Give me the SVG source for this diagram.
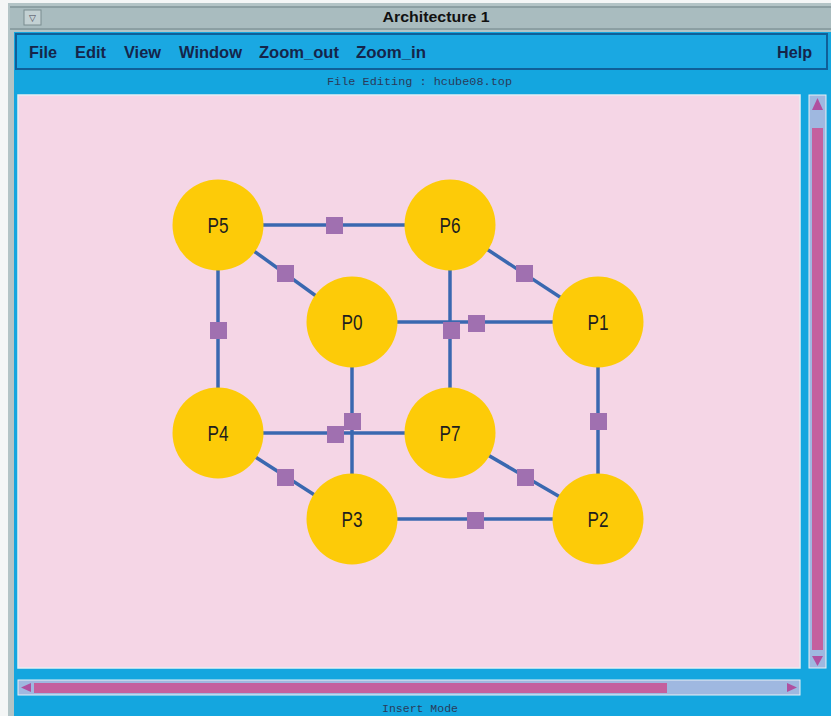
<svg xmlns="http://www.w3.org/2000/svg" width="831" height="716" viewBox="0 0 831 716">
<style>
.edge{stroke:#3a68b0;stroke-width:3.5;fill:none}
.sq{fill:#a070b0}
.node{fill:#fdcb08}
.lbl{font-family:"Liberation Sans",Arial,sans-serif;font-size:22px;fill:#1e1e1e;text-anchor:middle;dominant-baseline:central}
.menu{font-family:"Liberation Sans",Arial,sans-serif;font-size:17px;font-weight:bold;fill:#15254a}
.mono{font-family:"Liberation Mono","DejaVu Sans Mono",monospace;font-size:11.5px;fill:#2a3a5a}
</style>
<rect width="831" height="716" fill="#f4f6f6"/>
<!-- window frame -->
<rect x="8" y="3" width="823" height="713" fill="#b3c4c6"/>
<rect x="10" y="6" width="821" height="24" fill="#a9bcbf"/>
<line x1="10" y1="7" x2="831" y2="7" stroke="#6f8286" stroke-width="1"/>
<line x1="10" y1="29" x2="831" y2="29" stroke="#6f8286" stroke-width="1"/>
<rect x="24" y="10" width="17" height="15" fill="#c3d1d3" stroke="#7a8c90"/>
<text x="32.5" y="21" font-family="DejaVu Sans,sans-serif" font-size="9" fill="#445" text-anchor="middle">▽</text>
<text x="436" y="22" font-family="Liberation Sans,Arial,sans-serif" font-size="15" font-weight="bold" fill="#111" text-anchor="middle" textLength="107" lengthAdjust="spacingAndGlyphs">Architecture 1</text>
<!-- blue body -->
<rect x="14" y="32" width="817" height="684" fill="#14a6df"/>
<rect x="16" y="34" width="811" height="35" fill="#1aa8e2" stroke="#0f5f98" stroke-width="2"/>
<g class="menu">
<text x="29" y="58" textLength="28" lengthAdjust="spacingAndGlyphs">File</text>
<text x="75" y="58" textLength="31" lengthAdjust="spacingAndGlyphs">Edit</text>
<text x="124" y="58" textLength="37" lengthAdjust="spacingAndGlyphs">View</text>
<text x="179" y="58" textLength="63" lengthAdjust="spacingAndGlyphs">Window</text>
<text x="259" y="58" textLength="80" lengthAdjust="spacingAndGlyphs">Zoom_out</text>
<text x="356" y="58" textLength="70" lengthAdjust="spacingAndGlyphs">Zoom_in</text>
<text x="777" y="58" textLength="35" lengthAdjust="spacingAndGlyphs">Help</text>
</g>
<text class="mono" x="327" y="85" textLength="185" lengthAdjust="spacingAndGlyphs">File Editing :  hcube08.top</text>
<!-- canvas -->
<rect x="18" y="95" width="782" height="573" fill="#f5d6e6" stroke="#e8eef2" stroke-width="1.5"/>
<!-- vertical scrollbar -->
<rect x="809" y="95" width="17" height="573" fill="#9fb8e0" stroke="#e8f0f6"/>
<rect x="812" y="128" width="11" height="522" fill="#c4609e"/>
<polygon points="817.5,98 812,110 823,110" fill="#b050a0"/>
<polygon points="812,656 823,656 817.5,666" fill="#b050a0"/>
<!-- horizontal scrollbar -->
<rect x="18" y="680" width="782" height="15" fill="#9fb8e0" stroke="#e8f0f6"/>
<rect x="34" y="683" width="633" height="10" fill="#c4609e"/>
<polygon points="21,687.5 31,683 31,692" fill="#b050a0"/>
<polygon points="797,687.5 787,683 787,692" fill="#b050a0"/>
<text class="mono" x="420" y="712" text-anchor="middle">Insert Mode</text>
<!-- connectors -->
<g id="connectors">
<line class="edge" x1="218" y1="225" x2="450" y2="225"/>
<line class="edge" x1="218" y1="225" x2="352" y2="322"/>
<line class="edge" x1="218" y1="225" x2="218" y2="433"/>
<line class="edge" x1="450" y1="225" x2="598" y2="322"/>
<line class="edge" x1="450" y1="225" x2="450" y2="433"/>
<line class="edge" x1="352" y1="322" x2="598" y2="322"/>
<line class="edge" x1="352" y1="322" x2="352" y2="519"/>
<line class="edge" x1="598" y1="322" x2="598" y2="519"/>
<line class="edge" x1="218" y1="433" x2="450" y2="433"/>
<line class="edge" x1="218" y1="433" x2="352" y2="519"/>
<line class="edge" x1="450" y1="433" x2="598" y2="519"/>
<line class="edge" x1="352" y1="519" x2="598" y2="519"/>
<rect class="sq" x="326" y="217" width="17" height="17"/>
<rect class="sq" x="277" y="265" width="17" height="17"/>
<rect class="sq" x="210" y="322" width="17" height="17"/>
<rect class="sq" x="516" y="265" width="17" height="17"/>
<rect class="sq" x="443" y="322" width="17" height="17"/>
<rect class="sq" x="468" y="315" width="17" height="17"/>
<rect class="sq" x="344" y="413" width="17" height="17"/>
<rect class="sq" x="327" y="426" width="17" height="17"/>
<rect class="sq" x="590" y="413" width="17" height="17"/>
<rect class="sq" x="277" y="469" width="17" height="17"/>
<rect class="sq" x="517" y="469" width="17" height="17"/>
<rect class="sq" x="467" y="512" width="17" height="17"/>
</g>
<!-- nodes -->
<g id="P5"><circle class="node" cx="218" cy="225" r="45.5"/><text class="lbl" x="218" y="225" textLength="21" lengthAdjust="spacingAndGlyphs">P5</text></g>
<g id="P6"><circle class="node" cx="450" cy="225" r="45.5"/><text class="lbl" x="450" y="225" textLength="21" lengthAdjust="spacingAndGlyphs">P6</text></g>
<g id="P0"><circle class="node" cx="352" cy="322" r="45.5"/><text class="lbl" x="352" y="322" textLength="21" lengthAdjust="spacingAndGlyphs">P0</text></g>
<g id="P1"><circle class="node" cx="598" cy="322" r="45.5"/><text class="lbl" x="598" y="322" textLength="21" lengthAdjust="spacingAndGlyphs">P1</text></g>
<g id="P4"><circle class="node" cx="218" cy="433" r="45.5"/><text class="lbl" x="218" y="433" textLength="21" lengthAdjust="spacingAndGlyphs">P4</text></g>
<g id="P7"><circle class="node" cx="450" cy="433" r="45.5"/><text class="lbl" x="450" y="433" textLength="21" lengthAdjust="spacingAndGlyphs">P7</text></g>
<g id="P3"><circle class="node" cx="352" cy="519" r="45.5"/><text class="lbl" x="352" y="519" textLength="21" lengthAdjust="spacingAndGlyphs">P3</text></g>
<g id="P2"><circle class="node" cx="598" cy="519" r="45.5"/><text class="lbl" x="598" y="519" textLength="21" lengthAdjust="spacingAndGlyphs">P2</text></g>
</svg>
